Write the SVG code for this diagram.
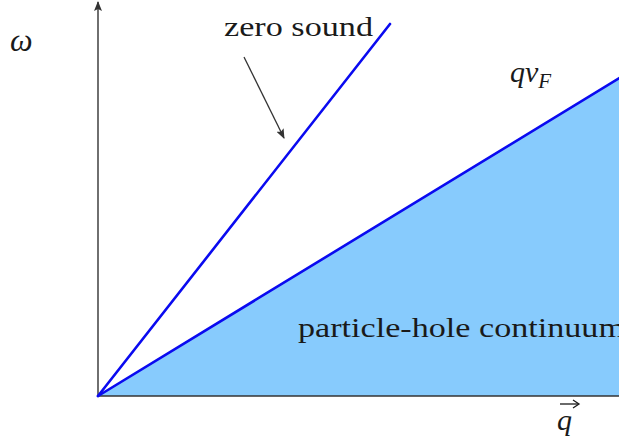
<svg xmlns="http://www.w3.org/2000/svg" width="619" height="445" viewBox="0 0 619 445">
<style>
.axis{stroke:#333;stroke-width:1.4;fill:none}
.blue{stroke:#0a0af0;stroke-width:2.6;fill:none;stroke-linecap:round}
.lbl{font-family:"Liberation Serif",serif;font-size:27px;fill:#1a1a1a}
.math{font-family:"Liberation Serif",serif;font-style:italic;fill:#1a1a1a}
</style>
<defs>
<marker id="ah" markerWidth="10" markerHeight="8" refX="9" refY="4" orient="auto" markerUnits="userSpaceOnUse">
<path d="M0,0 L10,4 L0,8 L2,4 Z" fill="#333"/>
</marker>
</defs>
<rect width="619" height="445" fill="#fff"/>
<g id="continuum">
<polygon points="98,396 619,78 619,396" fill="#87cbfd"/>
<text class="lbl" x="298" y="337" textLength="327" lengthAdjust="spacingAndGlyphs">particle-hole continuum</text>
</g>
<g id="connectors">
<line class="axis" x1="98" y1="396" x2="98" y2="2" marker-end="url(#ah)"/>
<line class="axis" x1="98" y1="396" x2="619" y2="396"/>
<line class="blue" x1="98" y1="396" x2="390" y2="24"/>
<line class="blue" x1="98" y1="396" x2="621" y2="77"/>
<line x1="244" y1="57" x2="284" y2="138" stroke="#333" stroke-width="1.3" marker-end="url(#ah)"/>
</g>
<g id="zero-sound">
<text class="lbl" x="224" y="36" textLength="149" lengthAdjust="spacingAndGlyphs">zero sound</text>
</g>
<g id="omega">
<text class="math" x="10" y="51" font-size="32">ω</text>
</g>
<g id="qvF">
<text class="math" x="510" y="82" font-size="30">qv<tspan font-size="21" dy="6">F</tspan></text>
</g>
<g id="qvec">
<text class="math" x="557" y="430" font-size="30">q</text>
<line x1="560" y1="404" x2="578" y2="404" stroke="#1a1a1a" stroke-width="1.3"/>
<path d="M573,400 L579,404 L573,408" fill="none" stroke="#1a1a1a" stroke-width="1.3"/>
</g>
</svg>
